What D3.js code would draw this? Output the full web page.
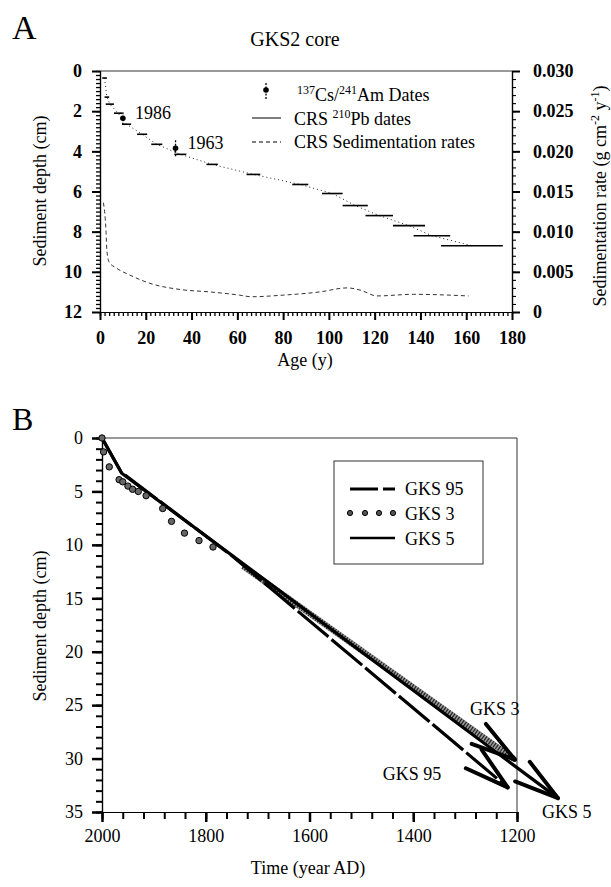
<!DOCTYPE html>
<html>
<head>
<meta charset="utf-8">
<script src="https://cdn.jsdelivr.net/npm/d3@7"></script>
<style>
  body { margin: 0; background: #fff; }
</style>
</head>
<body>
<svg id="chart" width="611" height="887"></svg>
<script>
// ---- panel A data (GKS2 core) ----
const csAge = [10, 33];
const csDepth = [2.35, 3.85];
const csErr = [0.3, 0.4];
const csLabel = ["1986", "1963"];

const crsAge = [2, 3, 4.3, 7.9, 11.6, 18.4, 24.8, 35.1, 49, 67, 87.5, 101.5, 111.5, 122, 135, 145, 162.5];
const crsAgeErr = [1, 1, 1.8, 1.8, 2, 2.2, 2.4, 2.6, 2.5, 3, 3.5, 4.5, 5.5, 6, 7, 8, 13.5];
const crsDepth = [0.35, 1.3, 1.65, 2.1, 2.65, 3.15, 3.65, 4.15, 4.65, 5.15, 5.65, 6.1, 6.7, 7.2, 7.7, 8.2, 8.7];

const rateAge = [1.5, 2.6, 3, 4, 7, 13, 21.5, 35, 48, 61, 66, 80, 96, 108, 114, 121, 137, 161];
const rateVal = [0.0136, 0.0102, 0.0077, 0.0062, 0.0055, 0.0046, 0.0036, 0.0028, 0.0025, 0.0021, 0.0019, 0.0021, 0.0025, 0.0030, 0.0027, 0.0020, 0.0022, 0.0020];

// ---- panel B data ----
const gks95Year = [2000, 1963, 1750, 1218];
const gks95Depth = [0, 3.2, 11.0, 32.7];
const gks5Year = [2000, 1962, 1121];
const gks5Depth = [0, 3.3, 33.7];
const gks3Year = [2000, 1997, 1986, 1967, 1960, 1950, 1941, 1930, 1915, 1883, 1866, 1841, 1813, 1786];
const gks3Depth = [0, 1.3, 2.7, 3.9, 4.1, 4.5, 4.8, 5.0, 5.4, 6.6, 7.8, 8.9, 9.6, 10.2];
const gks3TrendYear = [1728, 1204];
const gks3TrendDepth = [12.0, 30.1];

const font = "'Liberation Serif', 'Times New Roman', serif";
const svg = d3.select("#chart");
svg.append("rect").attr("width", 611).attr("height", 887).attr("fill", "#fff");

const xA = d3.scaleLinear().domain([0, 180]).range([100, 512]);
const yA = d3.scaleLinear().domain([0, 12]).range([71, 312]);
const yR = d3.scaleLinear().domain([0, 0.030]).range([312, 71]);

const xB = d3.scaleLinear().domain([2000, 1200]).range([102, 517]);
const yB = d3.scaleLinear().domain([0, 35]).range([438, 812]);

function styleAxis(g, size, bold, width) {
    g.selectAll("text")
        .attr("font-family", font)
        .attr("font-size", size)
        .attr("font-weight", bold ? "bold" : "normal")
        .attr("fill", "#000");
    g.selectAll("line").attr("stroke", "#000").attr("stroke-width", width);
    g.select(".domain").attr("stroke", "#000").attr("stroke-width", 1.2);
}

function text(x, y, str, size, anchor) {
    return svg.append("text")
        .attr("x", x).attr("y", y)
        .attr("font-family", font)
        .attr("font-size", size)
        .attr("text-anchor", anchor || "start")
        .text(str);
}

// ================= Panel A =================
text(12, 39, "A", 34);
text(295, 46, "GKS2 core", 20, "middle");

// frame
svg.append("line").attr("x1", 100).attr("x2", 512).attr("y1", 71).attr("y2", 71)
    .attr("stroke", "#333").attr("stroke-width", 1);

// minor ticks
svg.append("g").attr("transform", "translate(100,0)")
    .call(d3.axisLeft(yA).tickValues(d3.range(0, 60).map(i => i * 0.2)).tickSize(4).tickFormat(""))
    .call(g => styleAxis(g, 18, true, 1.3));
svg.append("g").attr("transform", "translate(0,312)")
    .call(d3.axisBottom(xA).tickValues(d3.range(0, 90).map(i => i * 2)).tickSize(4).tickFormat(""))
    .call(g => styleAxis(g, 18, true, 1.3));
svg.append("g").attr("transform", "translate(512,0)")
    .call(d3.axisRight(yR).tickValues(d3.range(0, 30).map(i => i * 0.001)).tickSize(4).tickFormat(""))
    .call(g => styleAxis(g, 18, true, 1.1));

// major ticks with labels
svg.append("g").attr("transform", "translate(100,0)")
    .call(d3.axisLeft(yA).tickValues(d3.range(0, 13, 2)).tickSize(8).tickSizeOuter(0).tickPadding(10))
    .call(g => styleAxis(g, 18, true, 2));
svg.append("g").attr("transform", "translate(0,312)")
    .call(d3.axisBottom(xA).tickValues(d3.range(0, 181, 20)).tickSize(8).tickSizeOuter(0).tickPadding(11))
    .call(g => styleAxis(g, 18, true, 2));
svg.append("g").attr("transform", "translate(512,0)")
    .call(d3.axisRight(yR).tickValues([0, 0.005, 0.010, 0.015, 0.020, 0.025, 0.030]).tickSize(8).tickSizeOuter(0).tickPadding(13)
        .tickFormat(d => d === 0 ? "0" : d3.format(".3f")(d)))
    .call(g => styleAxis(g, 18, true, 2));

// axis titles
text(0, 0, "Sediment depth (cm)", 18, "middle").attr("transform", "translate(46,191) rotate(-90)");
text(305, 366, "Age (y)", 18, "middle");
const rTitle = svg.append("text")
    .attr("transform", "translate(606,196) rotate(-90)")
    .attr("font-family", font).attr("font-size", 18).attr("text-anchor", "middle");
rTitle.append("tspan").text("Sedimentation rate (g cm");
rTitle.append("tspan").attr("dy", -7).attr("font-size", 12).text("-2");
rTitle.append("tspan").attr("dy", 7).text(" y");
rTitle.append("tspan").attr("dy", -7).attr("font-size", 12).text("-1");
rTitle.append("tspan").attr("dy", 7).text(")");

// sedimentation rate (dashed)
const rateLine = d3.line().x((d, i) => xA(rateAge[i])).y(d => yR(d)).curve(d3.curveMonotoneX);
svg.append("path").attr("d", rateLine(rateVal))
    .attr("fill", "none").attr("stroke", "#333").attr("stroke-width", 1)
    .attr("stroke-dasharray", "4,3");

// CRS 210Pb dates: dotted connector + horizontal bars
const crsLine = d3.line().x((d, i) => xA(crsAge[i])).y(d => yA(d));
svg.append("path").attr("d", crsLine(crsDepth))
    .attr("fill", "none").attr("stroke", "#222").attr("stroke-width", 1)
    .attr("stroke-dasharray", "1,3");
svg.append("g").selectAll("line").data(crsDepth).join("line")
    .attr("x1", (d, i) => xA(crsAge[i] - crsAgeErr[i]))
    .attr("x2", (d, i) => xA(crsAge[i] + crsAgeErr[i]))
    .attr("y1", d => yA(d)).attr("y2", d => yA(d))
    .attr("stroke", "#000").attr("stroke-width", 1.6);

// Cs/Am dates
const cs = svg.append("g");
cs.selectAll("line").data(csDepth).join("line")
    .attr("x1", (d, i) => xA(csAge[i])).attr("x2", (d, i) => xA(csAge[i]))
    .attr("y1", (d, i) => yA(d - csErr[i])).attr("y2", (d, i) => yA(d + csErr[i]))
    .attr("stroke", "#000").attr("stroke-width", 1.3).attr("stroke-dasharray", "2,1.5");
cs.selectAll("circle").data(csDepth).join("circle")
    .attr("cx", (d, i) => xA(csAge[i])).attr("cy", d => yA(d)).attr("r", 2.8).attr("fill", "#000");
cs.selectAll("text").data(csDepth).join("text")
    .attr("x", (d, i) => xA(csAge[i]) + 12).attr("y", d => yA(d) + 1)
    .attr("font-family", font).attr("font-size", 18)
    .text((d, i) => csLabel[i]);

// legend A
svg.append("line").attr("x1", 266).attr("x2", 266).attr("y1", 83).attr("y2", 100)
    .attr("stroke", "#000").attr("stroke-width", 1.3).attr("stroke-dasharray", "2,1.5");
svg.append("circle").attr("cx", 266).attr("cy", 90).attr("r", 2.8).attr("fill", "#000");
const l1 = svg.append("text").attr("x", 297).attr("y", 101)
    .attr("font-family", font).attr("font-size", 18);
l1.append("tspan").attr("dy", -7).attr("font-size", 12).text("137");
l1.append("tspan").attr("dy", 7).text("Cs/");
l1.append("tspan").attr("dy", -7).attr("font-size", 12).text("241");
l1.append("tspan").attr("dy", 7).text("Am Dates");

svg.append("line").attr("x1", 252).attr("x2", 281).attr("y1", 118).attr("y2", 118)
    .attr("stroke", "#000").attr("stroke-width", 1);
const l2 = svg.append("text").attr("x", 294).attr("y", 125)
    .attr("font-family", font).attr("font-size", 18);
l2.append("tspan").text("CRS ");
l2.append("tspan").attr("dy", -7).attr("font-size", 12).text("210");
l2.append("tspan").attr("dy", 7).text("Pb dates");

svg.append("line").attr("x1", 252).attr("x2", 281).attr("y1", 142).attr("y2", 142)
    .attr("stroke", "#000").attr("stroke-width", 1).attr("stroke-dasharray", "4,3");
text(294, 148, "CRS Sedimentation rates", 18);

// ================= Panel B =================
text(12, 430, "B", 32);

svg.append("line").attr("x1", 102).attr("x2", 517).attr("y1", 438).attr("y2", 438)
    .attr("stroke", "#333").attr("stroke-width", 1);
svg.append("line").attr("x1", 517).attr("x2", 517).attr("y1", 438).attr("y2", 812)
    .attr("stroke", "#333").attr("stroke-width", 1);

svg.append("g").attr("transform", "translate(102,0)")
    .call(d3.axisLeft(yB).tickValues(d3.range(0, 36, 1)).tickSize(6).tickFormat(""))
    .call(g => styleAxis(g, 18, false, 2));
svg.append("g").attr("transform", "translate(0,812)")
    .call(d3.axisBottom(xB).tickValues(d3.range(2000, 1199, -40)).tickSize(7).tickFormat(""))
    .call(g => styleAxis(g, 18, false, 2));
svg.append("g").attr("transform", "translate(102,0)")
    .call(d3.axisLeft(yB).tickValues(d3.range(0, 36, 5)).tickSize(10).tickSizeOuter(0).tickPadding(9))
    .call(g => styleAxis(g, 18, false, 2.5));
svg.append("g").attr("transform", "translate(0,812)")
    .call(d3.axisBottom(xB).tickValues(d3.range(2000, 1199, -200)).tickSize(10).tickSizeOuter(0).tickPadding(7)
        .tickFormat(d3.format("d")))
    .call(g => styleAxis(g, 18, false, 2.5));

text(0, 0, "Sediment depth (cm)", 18, "middle").attr("transform", "translate(46,626) rotate(-90)");
text(308, 874, "Time (year AD)", 18, "middle");

function arrowHead(g, years, depths) {
    const n = years.length;
    const x0 = xB(years[n - 2]), y0 = yB(depths[n - 2]);
    const x1 = xB(years[n - 1]), y1 = yB(depths[n - 1]);
    const back = Math.atan2(y0 - y1, x0 - x1);
    [-0.27, 0.27].forEach(da => {
        g.append("line")
            .attr("x1", x1).attr("y1", y1)
            .attr("x2", x1 + 46 * Math.cos(back + da))
            .attr("y2", y1 + 46 * Math.sin(back + da))
            .attr("stroke", "#000").attr("stroke-width", 4).attr("stroke-linecap", "round");
    });
    return [x1, y1];
}

const lineB = (ys, ds) => d3.line()(ys.map((y, i) => [xB(y), yB(ds[i])]));
const gB = svg.append("g");

// GKS 3 trend band (dotted texture)
gB.append("path").attr("d", lineB(gks3TrendYear, gks3TrendDepth))
    .attr("fill", "none").attr("stroke", "#999").attr("stroke-width", 6);
gB.append("path").attr("d", lineB(gks3TrendYear, gks3TrendDepth))
    .attr("fill", "none").attr("stroke", "#222").attr("stroke-width", 5.5)
    .attr("stroke-dasharray", "1.2,1.6");

// GKS 5 solid
gB.append("path").attr("d", lineB(gks5Year, gks5Depth))
    .attr("fill", "none").attr("stroke", "#000").attr("stroke-width", 3.2);
// GKS 95 dashed
gB.append("path").attr("d", lineB(gks95Year, gks95Depth))
    .attr("fill", "none").attr("stroke", "#000").attr("stroke-width", 3.2)
    .attr("stroke-dasharray", "40,4");

// GKS 3 points
gB.selectAll("circle").data(gks3Depth).join("circle")
    .attr("cx", (d, i) => xB(gks3Year[i])).attr("cy", d => yB(d)).attr("r", 3.2)
    .attr("fill", "#666").attr("stroke", "#000").attr("stroke-width", 1);

const t3 = arrowHead(gB, gks3TrendYear, gks3TrendDepth);
const t95 = arrowHead(gB, gks95Year, gks95Depth);
const t5 = arrowHead(gB, gks5Year, gks5Depth);

text(t3[0] - 45, t3[1] - 45, "GKS 3", 18);
text(t95[0] - 125, t95[1] - 7, "GKS 95", 18);
text(t5[0] - 16, t5[1] + 20, "GKS 5", 18);

// legend B
svg.append("rect").attr("x", 334).attr("y", 461).attr("width", 149).attr("height", 103)
    .attr("fill", "#fff").attr("stroke", "#333").attr("stroke-width", 1);
svg.append("line").attr("x1", 350).attr("x2", 395).attr("y1", 489).attr("y2", 489)
    .attr("stroke", "#000").attr("stroke-width", 3).attr("stroke-dasharray", "28,5");
svg.append("g").selectAll("circle").data([350, 365, 379, 393]).join("circle")
    .attr("cx", d => d).attr("cy", 513).attr("r", 2.6).attr("fill", "#555").attr("stroke", "#000");
svg.append("line").attr("x1", 350).attr("x2", 395).attr("y1", 538).attr("y2", 538)
    .attr("stroke", "#000").attr("stroke-width", 2.5);
text(405, 495, "GKS 95", 18);
text(405, 520, "GKS 3", 18);
text(405, 545, "GKS 5", 18);
</script>
</body>
</html>
